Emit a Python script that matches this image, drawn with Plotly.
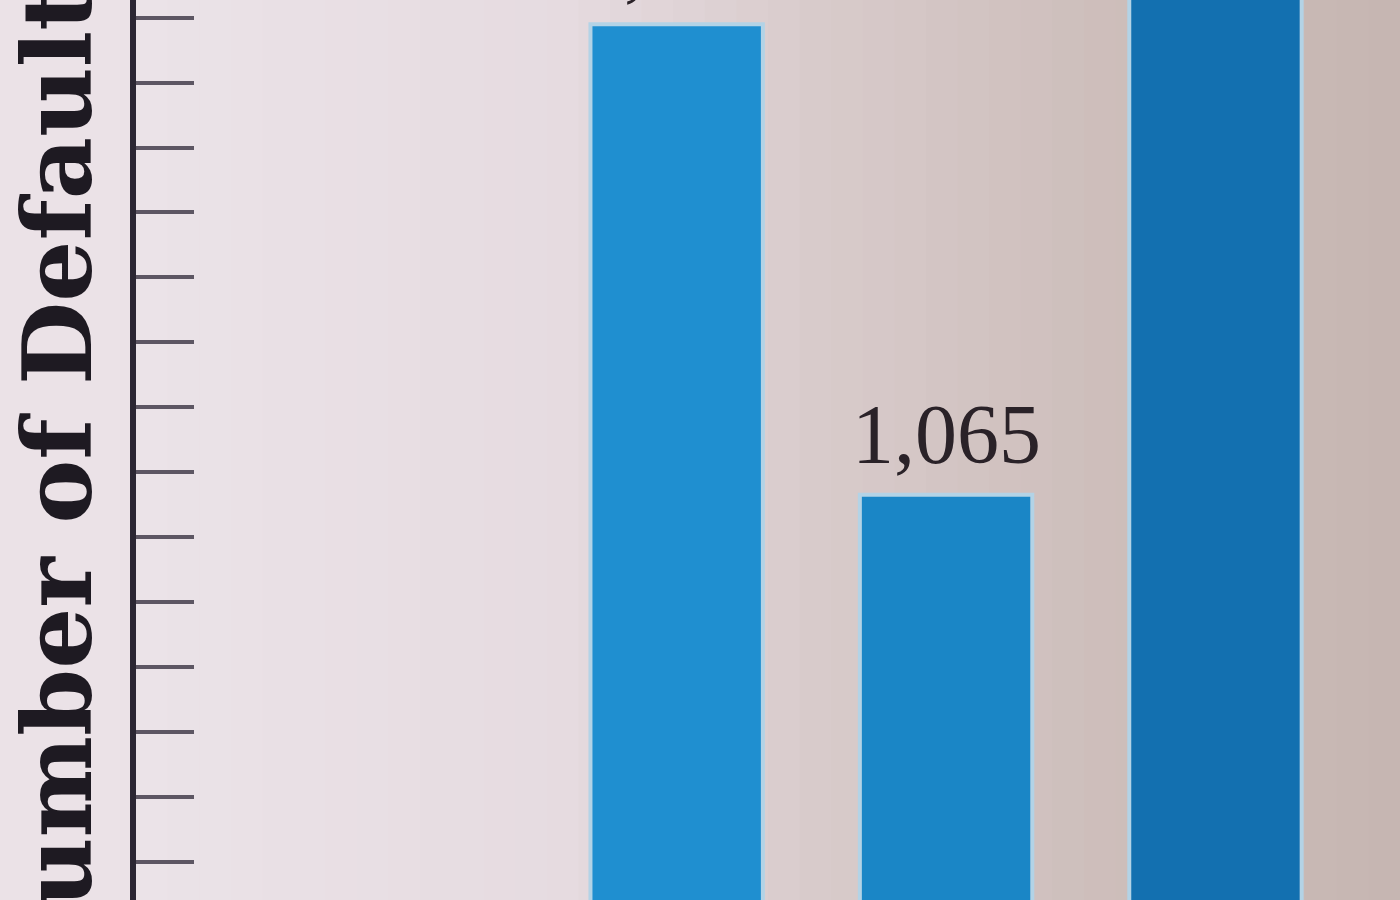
import plotly.graph_objects as go

# Data
categories = ["Period 1", "Period 2", "Period 3"]
defaults = [1790, 1065, 2120]
bar_colors = ["#1f8fd0", "#1a86c6", "#1370b0"]

axis_title = "Number of Defaults"

# background tint stops (style only): (pixel x across the figure, colour)
bg_stops = [(0, (236, 228, 233)), (140, (235, 227, 232)), (560, (230, 219, 224)),
            (820, (216, 203, 203)), (1080, (206, 191, 188)), (1400, (198, 182, 178))]


def bg_color(px):
    for (x0, c0), (x1, c1) in zip(bg_stops[:-1], bg_stops[1:]):
        if x0 <= px <= x1:
            t = (px - x0) / (x1 - x0)
            return "rgb(%d,%d,%d)" % tuple(round(a + (b - a) * t) for a, b in zip(c0, c1))
    return "rgb(%d,%d,%d)" % bg_stops[-1][1]


fig = go.Figure()
fig.add_trace(go.Bar(
    x=categories,
    y=defaults,
    marker=dict(color=bar_colors, line=dict(color="#b3d3e6", width=4)),
    width=0.64,
    hoverinfo="x+y",
))

# value labels above the bars
for cat, val in zip(categories, defaults):
    fig.add_annotation(
        x=cat, y=val, xref="x", yref="y",
        text=f"{val:,}",
        showarrow=False,
        yanchor="bottom",
        yshift=12,
        font=dict(family="Liberation Serif", size=84, color="#2a2228"),
    )

fig.add_annotation(
    text=axis_title,
    xref="paper", yref="paper",
    x=0, y=0.485,
    xanchor="right", yanchor="middle",
    xshift=-20,
    textangle=-90,
    showarrow=False,
    font=dict(family="DejaVu Serif", size=96, color="#1e1a22", weight="bold"),
)

# gradient background strips behind the plot area
left_px, plot_w = 136, 1400 - 136
n_strips = 40
shapes = []
for i in range(n_strips):
    x0 = i / n_strips
    x1 = (i + 1) / n_strips
    px = left_px + (x0 + x1) / 2 * plot_w
    shapes.append(dict(type="rect", xref="paper", yref="paper", x0=x0, x1=x1 + 0.002,
                       y0=0, y1=1, fillcolor=bg_color(px), line=dict(width=0), layer="below"))

fig.update_layout(
    width=1400, height=900,
    margin=dict(l=left_px, r=0, t=0, b=0),
    paper_bgcolor="#ebe2e7",
    plot_bgcolor="rgba(0,0,0,0)",
    showlegend=False,
    shapes=shapes,
)
fig.update_xaxes(
    range=[-2.007, 2.685],
    showticklabels=False,
    showgrid=False,
    zeroline=False,
    ticks="",
)
fig.update_yaxes(
    range=[440.7, 1827.4],
    tick0=0, dtick=100,
    ticks="inside", ticklen=58, tickwidth=4, tickcolor="#5d5663",
    showticklabels=False,
    showgrid=False,
    zeroline=False,
    showline=True, linewidth=6, linecolor="#2b2633",
    layer="above traces",
)

fig.write_html(
    "out.html",
    config={"displayModeBar": False},
    post_script="document.body.style.margin='0';document.body.style.background='#ebe2e7';",
)
